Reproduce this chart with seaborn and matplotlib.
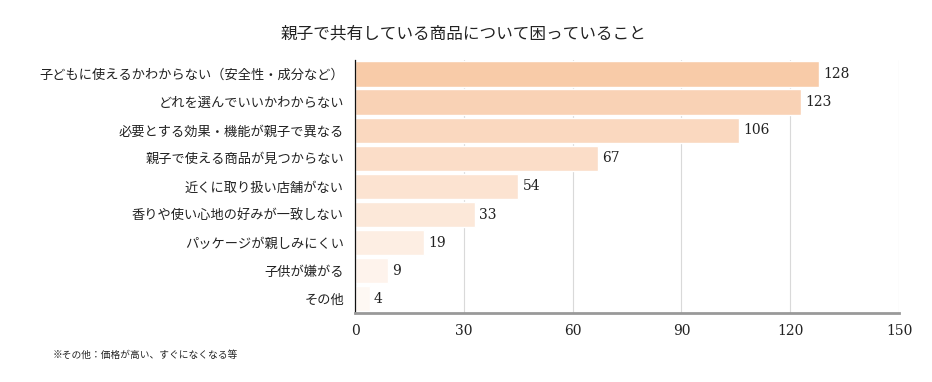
import matplotlib
import matplotlib.pyplot as plt
import pandas as pd
import seaborn as sns

matplotlib.use("Agg")

CATEGORIES = [
    "子どもに使えるかわからない（安全性・成分など）",
    "どれを選んでいいかわからない",
    "必要とする効果・機能が親子で異なる",
    "親子で使える商品が見つからない",
    "近くに取り扱い店舗がない",
    "香りや使い心地の好みが一致しない",
    "パッケージが親しみにくい",
    "子供が嫌がる",
    "その他",
]
# bar lengths as drawn in the picture (the "54" bar is drawn at about 45)
BAR_LENGTHS = [128, 123, 106, 67, 45, 33, 19, 9, 4]
# value labels as printed
VALUE_LABELS = ["128", "123", "106", "67", "54", "33", "19", "9", "4"]
BAR_COLORS = [
    "#F8CBA8", "#F9D2B5", "#FAD8BF", "#FBDDC8", "#FCE3D1",
    "#FCE8D9", "#FDEEE3", "#FEF3EC", "#FEF8F3",
]
X_TICKS = [0, 30, 60, 90, 120, 150]

TITLE = "親子で共有している商品について困っていること"
NOTE = "※その他：価格が高い、すぐになくなる等"

sns.set_theme(style="white")
plt.rcParams["font.family"] = ["Noto Sans CJK JP", "DejaVu Sans"]

df = pd.DataFrame({"item": CATEGORIES, "count": BAR_LENGTHS})

fig = plt.figure(figsize=(9.32, 3.82), dpi=100)
ax = fig.add_axes([0.381, 0.181, 0.5836, 0.662])

sns.barplot(
    data=df, x="count", y="item", hue="item", palette=BAR_COLORS,
    legend=False, width=0.9, ax=ax, saturation=1,
)

ax.set_xlim(0, 150)
ax.set_xticks(X_TICKS)
ax.set_xticklabels([str(t) for t in X_TICKS], family="DejaVu Serif", fontsize=10, color="#222222")
ax.tick_params(axis="x", length=0, pad=8)
ax.tick_params(axis="y", length=0, pad=8, labelsize=9.5, labelcolor="#222222")
ax.set_xlabel("")
ax.set_ylabel("")
ax.xaxis.grid(True, color="#d9d9d9", linewidth=0.8)
ax.set_axisbelow(True)

for s in ["top", "right"]:
    ax.spines[s].set_visible(False)
ax.spines["left"].set_color("#111111")
ax.spines["left"].set_linewidth(0.9)
ax.spines["bottom"].set_color("#999999")
ax.spines["bottom"].set_linewidth(2)

bars = [p for c in ax.containers for p in c]
bars.sort(key=lambda p: p.get_y())
for bar, txt in zip(bars, VALUE_LABELS):
    ax.annotate(
        txt, (bar.get_width(), bar.get_y() + bar.get_height() / 2),
        xytext=(3, 0), textcoords="offset points", va="center", ha="left",
        fontsize=10, family="DejaVu Serif", color="#222222",
    )

fig.text(0.497, 0.912, TITLE, ha="center", va="center", fontsize=12, color="#222222")
fig.text(0.056, 0.07, NOTE, ha="left", va="center", fontsize=7, color="#222222")

fig.savefig("out.png", dpi=100, facecolor="white")
plt.close(fig)
